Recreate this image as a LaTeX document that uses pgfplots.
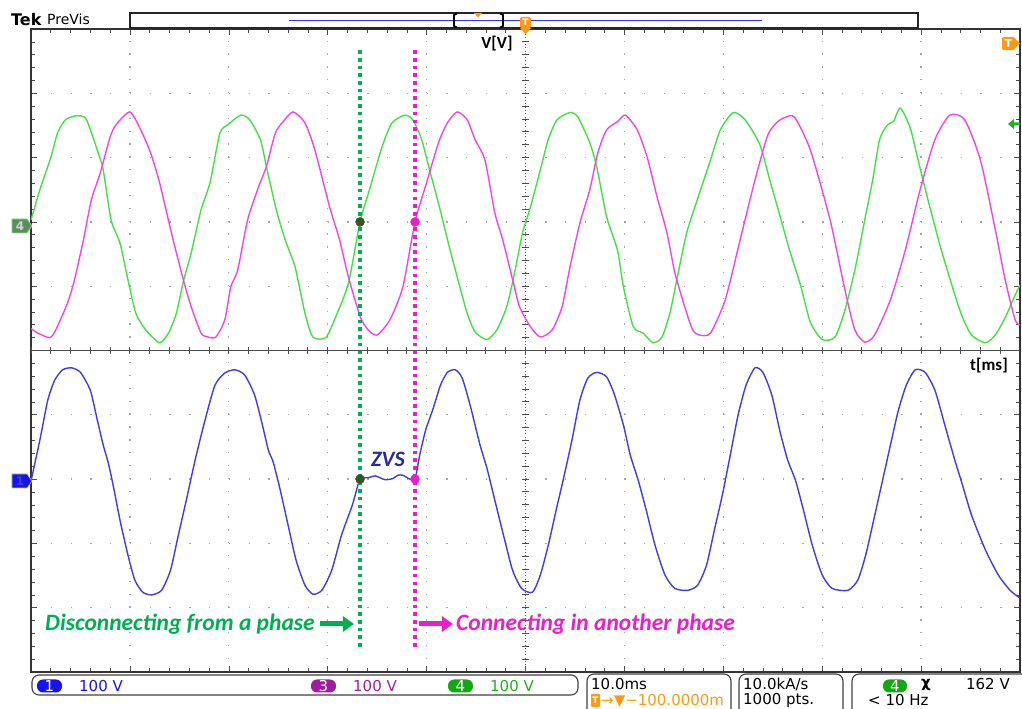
\documentclass[border=0pt]{standalone}
\usepackage{fontspec}
\setmainfont{Carlito}
\newfontfamily\tekfont{DejaVu Sans}
\usepackage{pgfplots}
\pgfplotsset{compat=1.18}
\usepackage{pgfplotstable}
\usetikzlibrary{arrows.meta}

\definecolor{trgreen}{HTML}{44E044}
\definecolor{trmag}{HTML}{F046E6}
\definecolor{trblue}{HTML}{3C3CF0}
\definecolor{anngreen}{HTML}{00B050}
\definecolor{annmag}{HTML}{EA1ECB}
\definecolor{dotgreen}{HTML}{3B5226}
\definecolor{zvsblue}{HTML}{2828A0}
\definecolor{tekorange}{HTML}{FF9A10}
\definecolor{stblue}{HTML}{1414F0}
\definecolor{stpurple}{HTML}{A21CA2}
\definecolor{stgreen}{HTML}{12A812}

% channel 4 (green), time in ms, volts
\pgfplotstableread{
t v
0 3
0.9 50
2.0 100
2.7 139
3.5 159
4.6 165
5.5 162
6.1 139
6.8 107
7.3 81
8.1 3
9.0 -33
9.8 -90
10.6 -142
11.6 -168
13.0 -188
13.9 -173
14.7 -142
15.4 -93
16.2 -48
17.2 19
18.1 61
19.1 138
19.9 151
21.2 166
22.1 159
23.2 128
23.8 86
24.8 19
25.7 -28
26.7 -70
27.7 -142
28.5 -179
29.8 -180
30.8 -148
32.1 -95
33.27 0
34.3 54
35.5 117
36.5 154
37.8 166
38.6 159
39.5 128
40.3 81
41.3 23
42.2 -33
43.1 -86
44.1 -142
44.9 -171
46.1 -183
47.1 -168
48.1 -132
48.9 -79
49.7 -17
50.5 23
51.5 81
52.3 128
53.2 159
54.5 170
55.3 163
56.5 123
57.2 86
58.2 8
59.3 -44
59.9 -101
60.9 -163
61.9 -173
62.9 -188
63.8 -179
64.6 -142
65.3 -90
66.3 -17
67.6 45
68.7 96
69.7 143
71.0 170
72.2 159
73.7 120
74.7 65
75.7 11
76.7 -44
77.8 -98
78.8 -156
80.0 -183
81.3 -179
82.3 -137
83.3 -75
84.3 3
85.1 65
85.8 128
86.6 151
87.2 156
87.9 177
88.9 146
89.7 96
90.7 34
91.9 -36
93.1 -98
94.1 -145
95.1 -176
96.5 -188
97.5 -176
98.5 -149
99.3 -121
100.0 -98
}\chfour

% channel 3 (magenta)
\pgfplotstableread{
t v
0 -166
0.7 -173
1.9 -180
2.5 -168
3.7 -126
4.4 -90
5.3 -28
6.1 34
7.0 76
8.0 132
8.6 151
10.0 171
11.1 143
12.1 107
13.0 61
14.2 -17
15.4 -90
16.2 -132
17.2 -173
17.9 -179
18.7 -179
19.6 -152
20.2 -101
20.9 -75
21.9 3
23.0 54
23.8 86
24.7 138
25.5 156
26.5 171
27.7 154
28.7 112
30.2 23
31.2 -28
32.1 -86
33.3 -148
34.1 -168
35.0 -176
36.3 -152
37.6 -101
38.83 0
40.0 61
41.2 123
42.1 154
43.1 171
44.1 159
44.9 128
45.9 96
46.9 14
47.7 -28
48.7 -90
49.4 -132
50.5 -163
51.5 -179
52.7 -168
53.7 -132
54.5 -70
55.5 -2
56.5 50
57.3 107
58.2 143
59.3 156
60.1 166
61.3 143
62.3 101
63.3 39
64.3 -17
65.1 -79
66.1 -132
66.9 -168
67.6 -176
68.7 -173
70.2 -121
71.7 -28
73.2 65
74.5 135
75.5 156
76.2 162
77.2 163
78.8 112
80.8 3
82.3 -106
83.3 -168
84.3 -187
85.3 -176
86.9 -121
88.4 -44
89.9 50
91.4 128
92.9 166
94.4 159
96.0 96
97.5 -12
98.5 -90
99.5 -152
100.0 -160
}\chthree

% channel 1 (blue)
\pgfplotstableread{
t v
0 -3
0.9 61
1.7 123
2.4 154
3.2 170
4.1 173
5.0 166
6.0 138
6.7 92
7.3 53
7.8 26
8.3 -9
9.0 -64
9.8 -118
10.5 -157
11.3 -176
12.2 -180
13.2 -173
14.1 -142
14.9 -87
15.7 -33
16.6 30
17.6 92
18.6 146
19.6 165
20.6 170
21.6 162
22.6 131
23.4 84
24.0 45
24.5 26
25.2 -17
26.0 -72
26.8 -126
27.7 -165
28.5 -179
29.4 -173
30.4 -142
31.4 -87
32.5 -40
33.27 0
34.1 2
34.8 5
35.8 -1
36.6 1
37.1 6
37.6 6
38.3 0
38.83 0
39.3 37
39.9 76
40.6 107
41.4 146
42.1 166
42.9 170
43.6 157
44.4 115
45.4 53
46.1 17
46.9 -33
47.9 -95
48.7 -142
49.6 -170
50.7 -176
51.5 -149
52.3 -103
53.1 -48
53.8 -2
54.7 61
55.5 123
56.3 157
57.2 166
58.2 159
59.0 131
59.9 84
60.6 37
61.4 -2
62.2 -48
63.1 -103
64.1 -149
65.1 -170
66.4 -173
67.4 -165
68.3 -134
69.1 -79
69.9 -25
70.7 37
71.5 100
72.3 146
73.2 173
74.0 166
74.9 131
75.7 76
76.5 30
77.3 -2
78.1 -48
79.0 -103
80.0 -149
81.0 -170
82.6 -173
83.6 -157
84.4 -118
85.2 -64
86.0 -9
86.9 53
87.7 107
88.5 146
89.4 170
90.4 166
91.4 138
92.4 84
93.4 30
94.1 -5
95.1 -56
96.5 -110
97.8 -149
99.0 -173
100.0 -185
}\chone

\begin{document}
\begin{tikzpicture}
\useasboundingbox (-31bp,-37bp) rectangle (991bp,672bp);
\begin{axis}[
  at={(0,0)}, anchor=south west,
  width=989bp, height=643bp, scale only axis,
  xmin=0, xmax=100, ymin=-5, ymax=5,
  xtick={0,10,...,100}, ytick={-5,-4,...,5},
  minor x tick num=4, minor y tick num=4,
  xticklabel={\relax}, yticklabel={\relax},
  tick align=inside,
  major tick length=6bp, minor tick length=4bp,
  every tick/.style={gray!60!black, line width=0.6bp},
  axis line style={black!80, line width=1.3bp},
  grid=major,
  major x grid style={gray!70, line width=1.3bp, dash pattern=on 1.3bp off 11.56bp},
  major y grid style={gray!70, line width=1.3bp, dash pattern=on 1.3bp off 18.48bp},
]
% centre graticule lines with their ticks
\draw[gray!60!black, line width=0.7bp, dash pattern=on 1bp off 2.3bp] (axis cs:50,-5) -- (axis cs:50,5);
\draw[gray!60!black, line width=7bp, dash pattern=on 1bp off 11.86bp, dash phase=0.5bp] (axis cs:50,-5) -- (axis cs:50,5);
\draw[gray!60!black, line width=0.8bp] (axis cs:0,0) -- (axis cs:100,0);
\draw[gray!60!black, line width=7bp, dash pattern=on 1bp off 18.78bp, dash phase=0.5bp] (axis cs:0,0) -- (axis cs:100,0);

\addplot[trgreen, line width=1.4bp, smooth, tension=0.4] table[x=t, y expr=\thisrow{v}/100+2] {\chfour};
\addplot[trmag, line width=1.4bp, smooth, tension=0.4] table[x=t, y expr=\thisrow{v}/100+2] {\chthree};
\addplot[trblue, line width=1.4bp, smooth, tension=0.4] table[x=t, y expr=\thisrow{v}/100-2] {\chone};

\addplot[anngreen, line width=3.6bp, dash pattern=on 3.6bp off 4.1bp] coordinates {(33.27,4.67) (33.27,-4.67)};
\addplot[annmag, line width=3.6bp, dash pattern=on 3.6bp off 4.1bp] coordinates {(38.83,4.67) (38.83,-4.67)};
\addplot[only marks, mark=*, mark size=4.5bp, dotgreen] coordinates {(33.27,2) (33.27,-2)};
\addplot[only marks, mark=*, mark size=4.5bp, annmag] coordinates {(38.83,2) (38.83,-2)};
\end{axis}

\begin{scope}[shift={(-31bp,672bp)}, x=1bp, y=-1bp]
% annotations
\node[zvsblue, font=\fontsize{22bp}{24bp}\selectfont\bfseries\itshape] at (388,459) {ZVS};
\node[anchor=west, anngreen, inner sep=0, font=\fontsize{23.5bp}{26bp}\selectfont\bfseries\itshape] at (45,624) {Disconnecting from a phase};
\draw[anngreen, line width=5bp, -{Triangle[length=11bp, width=15bp]}] (320,624) -- (354,624);
\draw[annmag, line width=5bp, -{Triangle[length=11bp, width=15bp]}] (419,624) -- (453,624);
\node[anchor=west, annmag, inner sep=0, font=\fontsize{23.5bp}{26bp}\selectfont\bfseries\itshape] at (456,624) {Connecting in another phase};
\node[font=\fontsize{17bp}{19bp}\selectfont\bfseries] at (497,44) {V[V]};
\node[font=\fontsize{17bp}{19bp}\selectfont\bfseries] at (989,366) {t[ms]};

% header
\node[anchor=west, inner sep=0, font=\fontsize{16bp}{18bp}\selectfont\tekfont\bfseries] at (11,20) {Tek};
\node[anchor=west, inner sep=0, font=\fontsize{14bp}{16bp}\selectfont\tekfont] at (47,19) {PreVis};
\draw[black!85, line width=1.2bp, fill=white] (130,13) rectangle (918,28);
\draw[blue!80, line width=1.2bp] (289,20.5) -- (762,20.5);
\draw[black, line width=1.6bp] (457,13.5) -- (454,15) -- (454,26) -- (457,27.5);
\draw[black, line width=1.6bp] (500,13.5) -- (503,15) -- (503,26) -- (500,27.5);
\fill[tekorange] (474,13) -- (482,13) -- (478,17.5) -- cycle;
\fill[tekorange, rounded corners=1.5bp] (520,17) rectangle (531,28);
\fill[tekorange] (520,28) -- (531,28) -- (525.5,34) -- cycle;
\node[white, inner sep=0, font=\fontsize{9bp}{10bp}\selectfont\tekfont\bfseries] at (525.5,22.5) {T};

% side markers
\fill[tekorange, rounded corners=2bp] (1002,37) rectangle (1015,50);
\fill[tekorange] (1014,37.5) -- (1020,43.5) -- (1014,49.5) -- cycle;
\node[white, inner sep=0, font=\fontsize{11bp}{12bp}\selectfont\tekfont\bfseries] at (1008.5,43.5) {T};
\fill[stgreen!80!trgreen] (1008,124) -- (1014,119) -- (1014,122.5) -- (1020,122.5) -- (1020,125.5) -- (1014,125.5) -- (1014,129) -- cycle;
\filldraw[fill=gray!40!green!45!black!70, draw=trgreen!70, line width=0.8bp] (12,219) -- (27,219) -- (32,226) -- (27,233) -- (12,233) -- cycle;
\node[inner sep=0, text=gray!35, font=\fontsize{12bp}{13bp}\selectfont\tekfont\bfseries] at (20,226) {4};
\filldraw[fill=stblue, draw=yellow!50!gray, line width=0.6bp] (12,474) -- (27,474) -- (32,481) -- (27,488) -- (12,488) -- cycle;
\node[inner sep=0, text=gray!50!blue, font=\fontsize{12bp}{13bp}\selectfont\tekfont\bfseries] at (20,481) {1};

% status bar
\draw[gray!50!black, line width=1.1bp, rounded corners=7bp, fill=white] (32,675) rectangle (578,695);
\draw[gray!50!black, line width=1.1bp, rounded corners=7bp, fill=white] (587,674) rectangle (731,716);
\draw[gray!50!black, line width=1.1bp, rounded corners=7bp, fill=white] (739,674) rectangle (843,716);
\draw[gray!50!black, line width=1.1bp, rounded corners=7bp, fill=white] (852,674) rectangle (1030,716);
\begin{scope}[every node/.style={inner sep=0, font=\fontsize{15bp}{17bp}\selectfont\tekfont}]
\fill[stblue, rounded corners=6bp] (37,679.5) rectangle (62,692.5);
\node[white] at (49.5,686) {1};
\node[anchor=west, stblue] at (79,686) {100 V};
\fill[stpurple, rounded corners=6bp] (311,679.5) rectangle (336,692.5);
\node[white] at (323.5,686) {3};
\node[anchor=west, stpurple] at (353,686) {100 V};
\fill[stgreen, rounded corners=6bp] (448,679.5) rectangle (473,692.5);
\node[white] at (460.5,686) {4};
\node[anchor=west, stgreen!80!trgreen] at (490,686) {100 V};
\node[anchor=west] at (591,684.5) {10.0ms};
\fill[tekorange, rounded corners=1bp] (591,694) rectangle (600,707);
\node[white, font=\fontsize{9bp}{10bp}\selectfont\tekfont\bfseries] at (595.5,700.5) {T};
\node[anchor=west, tekorange] at (601,700.5) {→▼−100.0000m};
\node[anchor=west] at (743,684.5) {10.0kA/s};
\node[anchor=west] at (743,700.5) {1000 pts.};
\fill[stgreen, rounded corners=6bp] (883,679.5) rectangle (907,692.5);
\node[white] at (895,686) {4};
\node[font=\fontsize{15bp}{17bp}\selectfont\tekfont\bfseries] at (926,685) {χ};
\node[anchor=east] at (1010,684.5) {162 V};
\node[anchor=west] at (868,700.5) {< 10 Hz};
\end{scope}
\end{scope}
\end{tikzpicture}
\end{document}
